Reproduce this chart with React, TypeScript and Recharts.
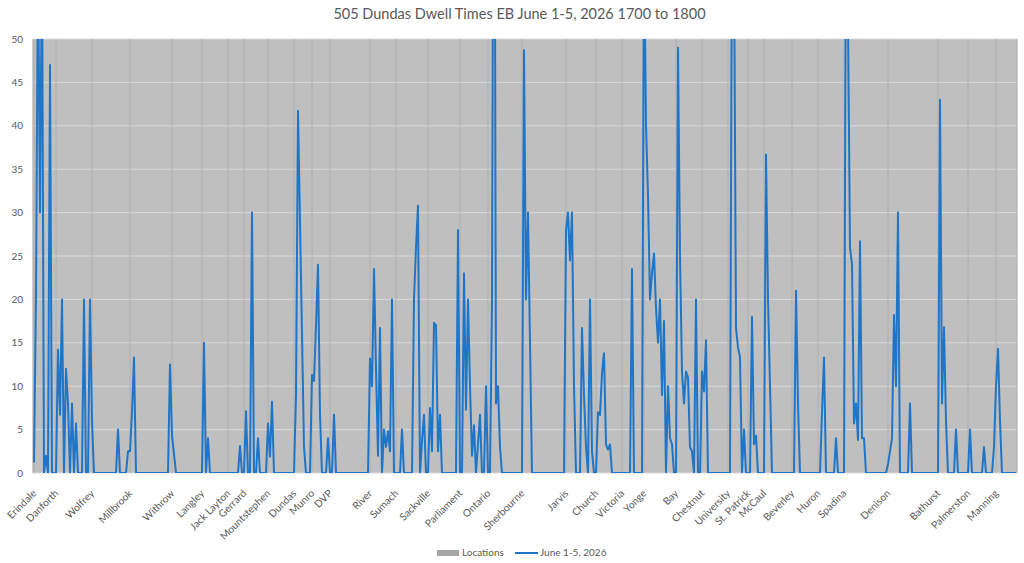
import React from 'react';
import { ComposedChart, Bar, Line, XAxis, YAxis, CartesianGrid, Legend } from 'recharts';

const stations = [
  'Erindale', 'Danforth', 'Wolfrey', 'Millbrook', 'Withrow', 'Langley', 'Jack Layton', 'Gerrard',
  'Mountstephen', 'Dundas', 'Munro', 'DVP', 'River', 'Sumach', 'Sackville', 'Parliament', 'Ontario',
  'Sherbourne', 'Jarvis', 'Church', 'Victoria', 'Yonge', 'Bay', 'Chestnut', 'University', 'St. Patrick',
  'McCaul', 'Beverley', 'Huron', 'Spadina', 'Denison', 'Bathurst', 'Palmerston', 'Manning',
];

// dwell times (seconds) observed at each location, in order along the route
const erindale = [1.2, 20.5, 60, 30, 60, 0, 2, 0, 47, 0, 0];
const danforth = [0, 14.2, 6.7, 20, 0, 12, 8, 0, 8, 0, 5.7, 0, 0, 0, 20, 0, 0, 20];
const wolfrey = [6, 0, 0, 0, 0, 0, 0, 0, 0, 0, 0, 0, 0, 5, 0, 0, 0, 0, 2.5];
const millbrook = [2.5, 7, 13.3, 0, 0, 0, 0, 0, 0, 0, 0, 0, 0, 0, 0, 0, 0, 0, 0, 0, 12.5];
const withrow = [4.3, 2.2, 0, 0, 0, 0, 0, 0, 0, 0, 0, 0, 0, 0, 0];
const langley = [0, 15, 0, 4, 0, 0, 0, 0, 0, 0, 0, 0, 0];
const jackLayton = [0, 0, 0, 0, 0, 0, 3.1, 0];
const gerrard = [0, 7.1, 0, 0, 30, 0, 0, 4, 0, 0, 0, 0];
const mountstephen = [5.7, 1.9, 8.2, 0, 0, 0, 0, 0, 0, 0, 0, 0, 0];
const dundas = [0, 9, 41.7, 29, 16, 3, 0, 0, 0];
const munro = [11.3, 10.6, 17, 24, 6.7, 0, 0, 0, 4];
const dvp = [0, 0, 6.7, 0, 0, 0, 0, 0, 0, 0, 0, 0, 0, 0, 0, 0, 0, 0, 0, 0];
const river = [13.2, 10, 23.5, 12, 2, 16.7, 0, 5, 3, 4.8, 2.5, 20, 0];
const sumach = [0, 0, 0, 5, 0, 0, 0, 0, 0, 20, 26, 30.8, 0, 3.7, 6.7, 0];
const sackville = [0, 7.5, 2.5, 17.3, 17, 2.5, 6.7, 0, 0, 0, 0, 0, 0, 0, 0, 28];
const parliament = [0, 0, 23, 7.3, 20, 10, 2, 5.5, 0, 3.3, 6.7, 0, 0, 10];
const ontario = [0, 0, 20, 100, 8, 10, 3, 0, 0, 0, 0, 0, 0, 0, 0, 0, 0];
const sherbourne = [0, 48.7, 20, 30, 15, 0, 0, 0, 0, 0, 0, 0, 0, 0, 0, 0, 0, 0, 0, 0, 0, 0];
const jarvis = [28, 30, 24.5, 30, 10, 0, 0, 0, 16.7, 9, 3, 0, 20, 2.5, 0];
const church = [0, 7, 6.7, 11.5, 13.8, 3.3, 2.7, 3.3, 0, 0, 0, 0, 0];
const victoria = [0, 0, 0, 0, 0, 23.5, 0, 0, 0, 0, 0];
const yonge = [62, 40, 32, 20, 23, 25.3, 19, 15, 20, 9, 17.5, 0, 10, 4, 3.3, 0];
const bay = [0, 49, 25, 11.7, 8, 11.7, 11, 3, 2.5, 0, 20, 0, 0];
const chestnut = [11.7, 9.4, 15.3, 0, 0, 0, 0, 0, 0, 0, 0, 0, 0];
const university = [0, 0, 65, 60, 16.7, 14.5, 13.3, 0, 5, 0];
const stPatrick = [0, 0, 18, 3.3, 4.3, 0, 0, 0];
const mccaul = [0, 36.7, 20, 10, 0, 0, 0, 0, 0, 0, 0, 0, 0, 0];
const beverley = [0, 0, 21, 8, 0, 0, 0, 0, 0, 0, 0, 0, 0];
const huron = [0, 0, 7, 13.3, 0, 0, 0, 0, 0, 4, 0, 0, 0];
const spadina = [0, 65, 52, 26, 24, 5.7, 8, 3.8, 26.7, 4, 4, 0, 0, 0, 0, 0, 0, 0, 0, 0, 0, 0];
const denison = [1, 2.5, 4, 18.2, 10, 30, 0, 0, 0, 0, 0, 8, 0, 0, 0, 0, 0, 0, 0, 0, 0, 0, 0, 0, 0];
const bathurst = [0, 43, 8, 16.8, 6, 0, 0, 0, 0, 5, 0, 0, 0, 0, 0];
const palmerston = [0, 5, 0, 0, 0, 0, 0, 0, 3, 0, 0, 0, 0, 3];
const manning = [10, 14.3, 6, 0, 0, 0, 0, 0, 0, 0, 0];

const stationDwell = [
  erindale, danforth, wolfrey, millbrook, withrow, langley, jackLayton, gerrard, mountstephen, dundas,
  munro, dvp, river, sumach, sackville, parliament, ontario, sherbourne, jarvis, church, victoria, yonge,
  bay, chestnut, university, stPatrick, mccaul, beverley, huron, spadina, denison, bathurst, palmerston, manning,
];

const yTicks = [0, 5, 10, 15, 20, 25, 30, 35, 40, 45, 50];
const locationsValue = 50;

type Row = { idx: number; station: string; dwell: number; locations: number };
const rows: Row[] = [];
const stationTicks: number[] = [];
const labelAt: Record<number, string> = {};
stationDwell.forEach((values, s) => {
  stationTicks.push(rows.length);
  labelAt[rows.length] = stations[s];
  values.forEach((v) => {
    rows.push({ idx: rows.length, station: stations[s], dwell: v, locations: locationsValue });
  });
});

const FONT = 'Lato, "Liberation Sans", sans-serif';
const TEXT = '#595959';
const BLUE = '#1F75C8';

const StationTick = (props: any) => {
  const { x, y, payload } = props;
  const ax = x + 3;
  const ay = y + 21;
  return (
    <text
      x={ax}
      y={ay}
      textAnchor="end"
      transform={`rotate(-45 ${ax} ${ay})`}
      fontSize={10.2}
      fill={TEXT}
      fontFamily={FONT}
    >
      {labelAt[payload.value]}
    </text>
  );
};

const LegendContent = () => (
  <div style={{ position: 'relative', width: 1024, height: 20, fontFamily: FONT, fontSize: 10, color: TEXT }}>
    <div style={{ position: 'absolute', left: 437, top: 7, width: 22, height: 6, background: '#A6A6A6' }} />
    <span style={{ position: 'absolute', left: 462, top: 3, lineHeight: '12px' }}>Locations</span>
    <div style={{ position: 'absolute', left: 515, top: 9, width: 23, height: 2, background: BLUE }} />
    <span style={{ position: 'absolute', left: 540, top: 3, lineHeight: '12px' }}>June 1-5, 2026</span>
  </div>
);

export default function App() {
  return (
    <div style={{ position: 'absolute', left: 0, top: 0, width: 1024, height: 563, background: '#ffffff', fontFamily: FONT }}>
      <div
        style={{
          position: 'absolute', left: 0, top: 4, width: 1039, textAlign: 'center',
          fontSize: 14.5, lineHeight: '20px', color: TEXT, fontFamily: FONT,
        }}
      >
        505 Dundas Dwell Times EB June 1-5, 2026 1700 to 1800
      </div>
      <ComposedChart
        width={1024}
        height={563}
        data={rows}
        margin={{ top: 39, right: 7, bottom: 0, left: 0 }}
        barCategoryGap={0}
        barGap={0}
      >
        <XAxis
          dataKey="idx"
          type="category"
          ticks={stationTicks}
          interval={0}
          tick={<StationTick />}
          tickLine={false}
          axisLine={false}
          tickSize={0}
          tickMargin={0}
          height={70}
        />
        <YAxis
          width={33}
          domain={[0, 50]}
          ticks={yTicks}
          allowDataOverflow
          axisLine={false}
          tickLine={false}
          tickMargin={4}
          tick={{ fontSize: 10, fill: TEXT, fontFamily: FONT }}
        />
        <Bar
          dataKey="locations"
          name="Locations"
          fill="#BFBFBF"
          stroke="#BFBFBF"
          strokeWidth={0.6}
          isAnimationActive={false}
        />
        <CartesianGrid vertical={false} stroke="#D9D9D9" strokeWidth={1} zIndex={350} />
        <CartesianGrid horizontal={false} stroke="#B0B0B0" strokeWidth={1} zIndex={350} />
        <Line
          dataKey="dwell"
          name="June 1-5, 2026"
          type="linear"
          stroke={BLUE}
          strokeWidth={2}
          strokeLinejoin="round"
          dot={false}
          activeDot={false}
          isAnimationActive={false}
        />
        <Legend
          verticalAlign="bottom"
          content={<LegendContent />}
          wrapperStyle={{ left: 0, width: 1024, bottom: 0 }}
        />
      </ComposedChart>
    </div>
  );
}
